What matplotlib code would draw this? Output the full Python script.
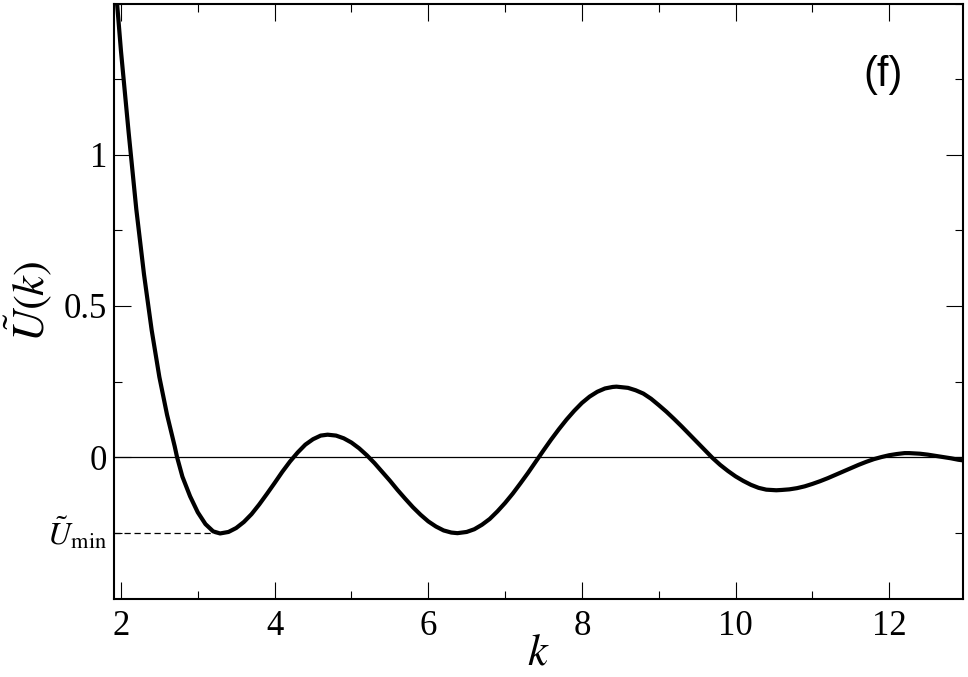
import matplotlib
matplotlib.use("Agg")
import matplotlib.pyplot as plt
import matplotlib.transforms as mtransforms
from matplotlib.ticker import MultipleLocator

plt.rcParams["font.family"] = ["Liberation Serif", "DejaVu Serif"]
plt.rcParams["mathtext.fontset"] = "stix"

# U(k)
k_vals = [1.93, 1.95, 2.0, 2.1, 2.2, 2.3, 2.4, 2.5, 2.6, 2.7,
          2.73, 2.8, 2.9, 3.0, 3.1, 3.2, 3.29, 3.4, 3.5, 3.6,
          3.7, 3.8, 3.9, 4.0, 4.1, 4.2, 4.3, 4.4, 4.5, 4.6,
          4.69, 4.8, 4.9, 5.0, 5.1, 5.2, 5.3, 5.4, 5.5, 5.6,
          5.7, 5.8, 5.9, 6.0, 6.1, 6.2, 6.3, 6.38, 6.5, 6.6,
          6.7, 6.8, 6.9, 7.0, 7.1, 7.2, 7.3, 7.4, 7.5, 7.6,
          7.7, 7.8, 7.9, 8.0, 8.1, 8.2, 8.3, 8.4, 8.45, 8.6,
          8.7, 8.8, 8.9, 9.0, 9.1, 9.2, 9.3, 9.4, 9.5, 9.6,
          9.7, 9.8, 9.9, 10.0, 10.1, 10.2, 10.3, 10.4, 10.53, 10.6,
          10.7, 10.8, 10.9, 11.0, 11.1, 11.2, 11.3, 11.4, 11.5, 11.6,
          11.7, 11.8, 11.9, 12.0, 12.1, 12.2, 12.26, 12.4, 12.5, 12.6,
          12.7, 12.8, 12.9, 12.96]
u_vals = [1.56, 1.50, 1.345, 1.075, 0.82, 0.605, 0.42, 0.265, 0.14, 0.035,
          0.0, -0.065, -0.13, -0.183, -0.222, -0.246, -0.253, -0.248, -0.235, -0.215,
          -0.189, -0.157, -0.122, -0.086, -0.049, -0.015, 0.015, 0.041, 0.059, 0.071,
          0.074, 0.071, 0.062, 0.048, 0.029, 0.006, -0.020, -0.049, -0.078, -0.109,
          -0.138, -0.166, -0.191, -0.213, -0.230, -0.243, -0.250, -0.252, -0.248, -0.239,
          -0.224, -0.205, -0.180, -0.152, -0.121, -0.087, -0.052, -0.015, 0.022, 0.058,
          0.092, 0.124, 0.153, 0.179, 0.200, 0.216, 0.227, 0.232, 0.233, 0.229,
          0.221, 0.210, 0.193, 0.172, 0.150, 0.126, 0.101, 0.075, 0.049, 0.023,
          -0.003, -0.026, -0.046, -0.064, -0.079, -0.092, -0.102, -0.108, -0.110, -0.109,
          -0.107, -0.103, -0.097, -0.089, -0.080, -0.070, -0.059, -0.048, -0.037, -0.026,
          -0.016, -0.007, 0.0, 0.006, 0.010, 0.013, 0.013, 0.011, 0.008, 0.004,
          0.0, -0.004, -0.009, -0.011]

x_major = [2, 4, 6, 8, 10, 12]
y_major = [0, 0.5, 1]
y_major_labels = ["0", "0.5", "1"]

fig = plt.figure(figsize=(9.68, 6.77), dpi=100)
ax = fig.add_axes([0.1178, 0.1152, 0.877, 0.879])

ax.axhline(0, color="black", lw=0.9)
ax.plot(k_vals, u_vals, color="black", lw=3.0, solid_joinstyle="round")

# dashed marker of the first minimum
i_min = u_vals.index(min(u_vals[:30]))
k_min, u_min = k_vals[i_min], u_vals[i_min]
ax.plot([1.91, k_min], [u_min, u_min], color="black", lw=0.9,
        dashes=(5, 3))
trans = mtransforms.blended_transform_factory(ax.transAxes, ax.transData)
ax.text(-0.008, u_min, r"$\tilde{U}_{\mathrm{min}}$", transform=trans,
        ha="right", va="center", fontsize=23)

ax.set_xlim(1.91, 12.96)
ax.set_ylim(-0.47, 1.5)
ax.set_xticks(x_major)
ax.set_yticks(y_major)
ax.set_yticklabels(y_major_labels)
ax.xaxis.set_minor_locator(MultipleLocator(1))
ax.yaxis.set_minor_locator(MultipleLocator(0.25))
ax.tick_params(which="both", direction="in", top=True, right=True,
               width=0.8, labelsize=25)
ax.tick_params(which="major", length=12)
ax.tick_params(which="minor", length=6)
ax.tick_params(axis="x", pad=8)
ax.tick_params(axis="y", pad=5)
for s in ax.spines.values():
    s.set_linewidth(1.5)

ax.set_xlabel(r"$k$", fontsize=32, labelpad=-7)
ax.set_ylabel(r"$\tilde{U}(k)$", fontsize=32, labelpad=7)

ax.text(0.906, 0.881, "(f)", transform=ax.transAxes, ha="center", va="center",
        fontsize=30, family=["Liberation Sans", "DejaVu Sans"])

fig.savefig("out.png", dpi=100)
